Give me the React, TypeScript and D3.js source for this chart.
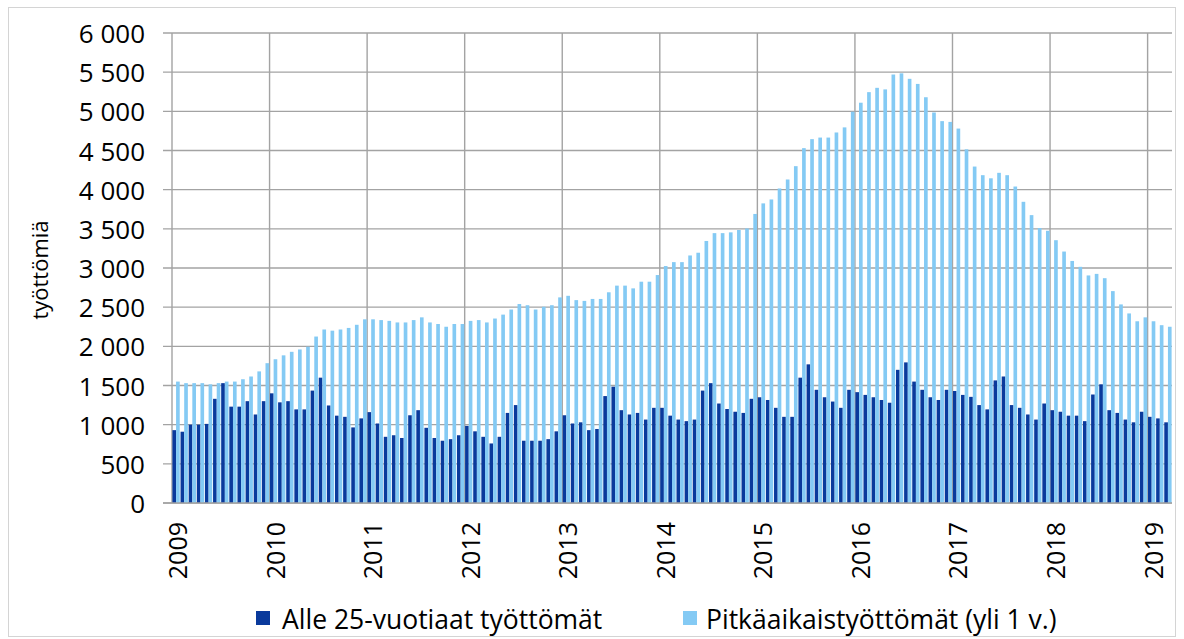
import * as d3 from "d3";

// monthly values, Jan 2009 - Mar 2019
const startYear = 2009;
const yearLabels = ["2009", "2010", "2011", "2012", "2013", "2014", "2015", "2016", "2017", "2018", "2019"];

const youngUnemployed = [
  930, 910, 1000, 1000, 1010, 1330, 1530, 1230, 1230, 1300, 1130, 1300,
  1400, 1285, 1300, 1195, 1195, 1435, 1600, 1245, 1115, 1100, 965, 1080,
  1160, 1015, 845, 865, 830, 1120, 1185, 960, 830, 795, 815, 865,
  985, 915, 845, 760, 845, 1150, 1250, 795, 795, 795, 815, 915,
  1120, 1015, 1030, 930, 945, 1365, 1485, 1185, 1130, 1150, 1065, 1215,
  1215, 1115, 1065, 1045, 1065, 1435, 1530, 1270, 1200, 1165, 1150, 1330,
  1350, 1315, 1215, 1100, 1100, 1600, 1770, 1445, 1350, 1295, 1215, 1445,
  1415, 1380, 1350, 1315, 1280, 1700, 1795, 1550, 1445, 1350, 1315, 1445,
  1430, 1380, 1355, 1250, 1195, 1565, 1615, 1250, 1215, 1130, 1065, 1270,
  1185, 1165, 1115, 1115, 1045, 1385, 1515, 1185, 1150, 1065, 1030, 1165,
  1100, 1080, 1030,
];

const longTermUnemployed = [
  1550, 1530, 1530, 1530, 1515, 1530, 1550, 1550, 1580, 1615, 1680, 1785,
  1835, 1885, 1930, 1960, 1995, 2125, 2215, 2200, 2215, 2235, 2275, 2345,
  2345, 2335, 2325, 2305, 2305, 2335, 2370, 2305, 2285, 2250, 2285, 2285,
  2325, 2335, 2305, 2355, 2405, 2470, 2540, 2525, 2470, 2505, 2525, 2625,
  2645, 2590, 2580, 2605, 2605, 2690, 2775, 2775, 2740, 2825, 2825, 2910,
  3025, 3075, 3075, 3160, 3195, 3345, 3445, 3445, 3455, 3485, 3505, 3690,
  3825, 3875, 4015, 4130, 4300, 4530, 4645, 4665, 4665, 4730, 4795, 4995,
  5110, 5245, 5300, 5280, 5470, 5485, 5415, 5350, 5180, 4985, 4875, 4865,
  4780, 4515, 4295, 4185, 4145, 4215, 4185, 4040, 3845, 3675, 3510, 3475,
  3355, 3210, 3090, 3015, 2905, 2925, 2870, 2705, 2535, 2420, 2320, 2370,
  2320, 2270, 2250,
];

const yTicks = [0, 500, 1000, 1500, 2000, 2500, 3000, 3500, 4000, 4500, 5000, 5500, 6000];
const seriesNames = ["Alle 25-vuotiaat työttömät", "Pitkäaikaistyöttömät (yli 1 v.)"];
const seriesColors = ["#0a3a9c", "#84caf4"];

const months = youngUnemployed.map((_, i) => `${startYear + Math.floor(i / 12)}-${String((i % 12) + 1).padStart(2, "0")}`);

export default function App() {
  const width = 1184;
  const height = 639;
  const marginLeft = 172;
  const marginRight = 12;
  const marginTop = 33;
  const plotBottom = 503;
  const font = "'Open Sans', sans-serif";

  const x = d3
    .scaleBand<string>()
    .domain(months)
    .range([marginLeft, width - marginRight])
    .paddingInner(0.1)
    .paddingOuter(0.05);

  const xSub = d3
    .scaleBand<number>()
    .domain([0, 1])
    .range([0, x.bandwidth()]);

  const y = d3.scaleLinear().domain([0, 6000]).range([plotBottom, marginTop]);

  const step = x.step();
  const yearX = (i: number) => marginLeft + step * 12 * i;
  const fmt = (v: number) => d3.format(",")(v).replace(",", " ");

  const series = [youngUnemployed, longTermUnemployed];

  return (
    <div style={{ position: "fixed", left: 0, top: 0 }}>
      <svg width={width} height={height} style={{ display: "block", background: "#fff" }}>
        <rect x={8.5} y={7.5} width={width - 17} height={height - 10} fill="none" stroke="#d4d4d4" />

        {/* horizontal gridlines + y labels */}
        {yTicks.map((t) => (
          <g key={t}>
            <line x1={163} x2={width - marginRight} y1={y(t)} y2={y(t)} stroke="#a3a3a3" strokeWidth={1.4} />
            <text x={145} y={y(t)} textAnchor="end" dominantBaseline="central" fontFamily={font} fontSize={26} fill="#000">
              {fmt(t)}
            </text>
          </g>
        ))}

        {/* vertical year gridlines */}
        {yearLabels.map((yr, i) => (
          <g key={yr}>
            <line x1={yearX(i)} x2={yearX(i)} y1={marginTop} y2={plotBottom} stroke="#a3a3a3" strokeWidth={1.4} />
            <text
              transform={`translate(${yearX(i) + 5},522) rotate(-90)`}
              textAnchor="end"
              dominantBaseline="central"
              fontFamily={font}
              fontSize={25}
              fill="#000"
            >
              {yr}
            </text>
          </g>
        ))}

        {/* bars */}
        {series.map((vals, s) => (
          <g key={s} fill={seriesColors[s]}>
            {vals.map((v, i) => (
              <rect
                key={months[i]}
                x={(x(months[i]) ?? 0) + (xSub(s) ?? 0)}
                y={y(v)}
                width={xSub.bandwidth()}
                height={plotBottom - y(v)}
              />
            ))}
          </g>
        ))}

        <line x1={163} x2={width - marginRight} y1={plotBottom} y2={plotBottom} stroke="#a3a3a3" strokeWidth={1.4} />

        {/* y axis title */}
        <text transform="translate(39,270) rotate(-90)" textAnchor="middle" dominantBaseline="central" fontFamily={font} fontSize={22} fill="#000">
          työttömiä
        </text>

        {/* legend */}
        <rect x={256} y={611} width={14} height={14} fill={seriesColors[0]} />
        <text x={282} y={619} dominantBaseline="central" fontFamily={font} fontSize={26.5} fill="#000">
          {seriesNames[0]}
        </text>
        <rect x={683} y={611} width={14} height={14} fill={seriesColors[1]} />
        <text x={706} y={619} dominantBaseline="central" fontFamily={font} fontSize={26.5} fill="#000">
          {seriesNames[1]}
        </text>
      </svg>
    </div>
  );
}
